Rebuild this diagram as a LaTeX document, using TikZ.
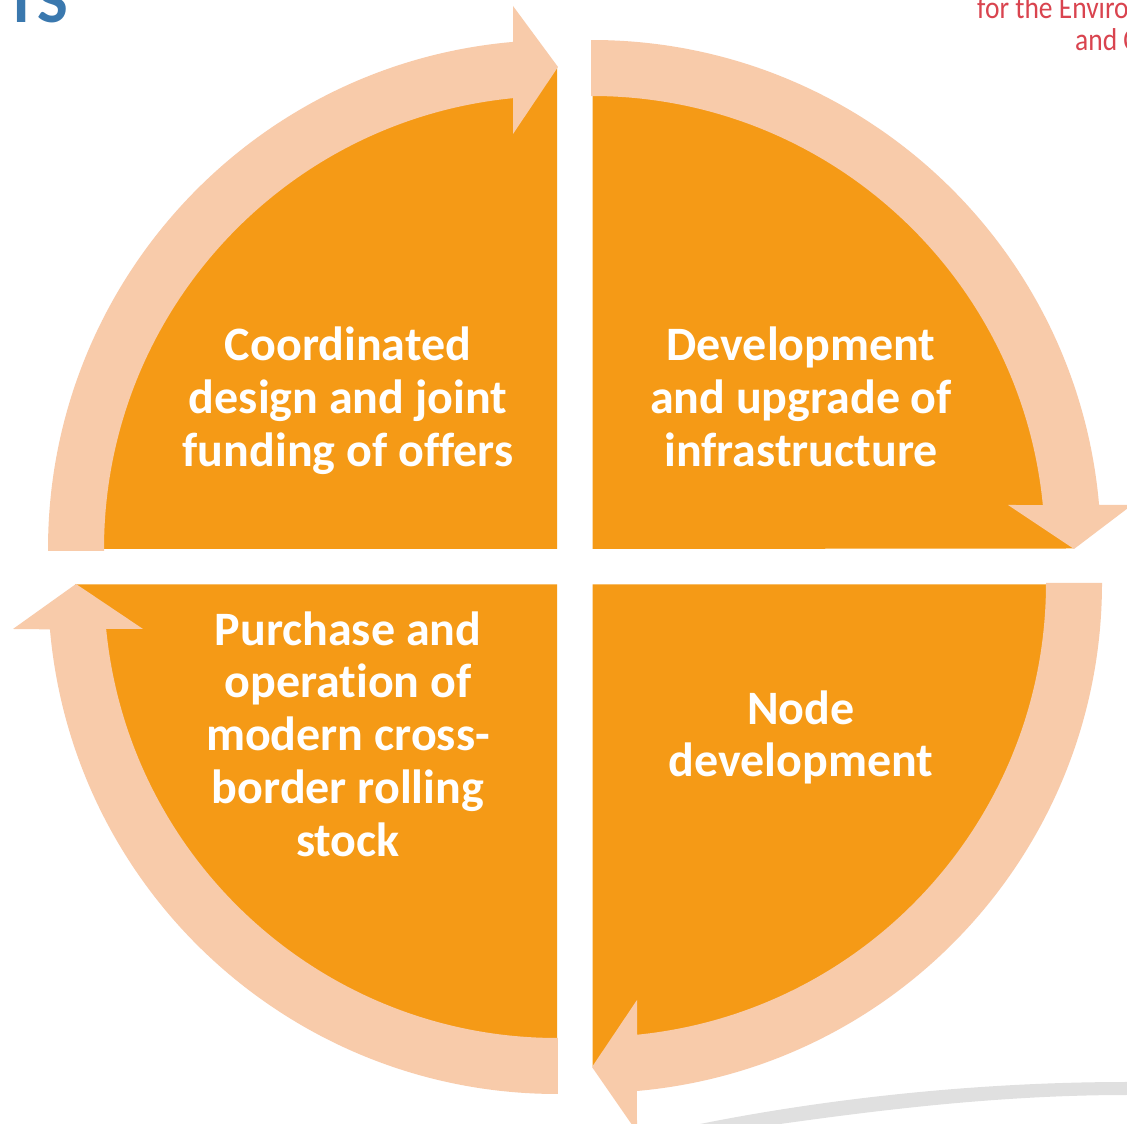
\documentclass[tikz,border=0pt]{standalone}
\usepackage{fontspec}
\setmainfont{Carlito}[Ligatures=NoCommon]
\definecolor{quadfill}{HTML}{F59A16}
\definecolor{bandfill}{HTML}{F8CBAA}
\definecolor{swoosh}{HTML}{E0E0E0}
\definecolor{headblue}{HTML}{3A78AE}
\definecolor{headred}{HTML}{D9444F}
\tikzset{
  quad/.style={fill=quadfill,draw=none},
  band/.style={fill=bandfill,draw=none},
  label/.style={text=white,align=center,inner sep=0pt,font=\bfseries\fontsize{48}{52.8}\selectfont},
  redtext/.style={anchor=base west,inner sep=0pt,text=headred,yscale=1.15,font=\fontsize{27.5}{27.5}\selectfont},
}
\begin{document}
\begin{tikzpicture}[x=1pt,y=1pt]
\clip (0,0) rectangle (1127,1124);
\fill[white] (0,0) rectangle (1127,1124);
% grey swoosh
\fill[swoosh] (700,0) .. controls (830,26) and (980,42) .. (1127,42) -- (1127,29) .. controls (1000,29) and (880,14) .. (780,0) -- cycle;
% quadrants
\path[quad] (592.5,575) -- (592.5,1057) arc[start angle=90,end angle=0,radius=481.5pt] -- cycle;
\path[quad] (592.5,539.5) -- (1074,539.5) arc[start angle=0,end angle=-90,radius=481.5pt] -- cycle;
\path[quad] (557,539.5) -- (557,57.5) arc[start angle=270,end angle=180,radius=482pt] -- cycle;
\path[quad] (557,575) -- (75,575) arc[start angle=180,end angle=90,radius=482pt] -- cycle;
% arrows
\path[band] ([shift={(592,575)}]90.1:509pt) arc[start angle=90.1,end angle=4.96,radius=509pt]
  -- (1132,619) -- (1074,575) -- (1008,619) -- ([shift={(592,575)}]5.57:453pt)
  arc[start angle=5.57,end angle=90.1,radius=453pt] -- cycle;
\path[band] ([shift={(592,541)}]0:510pt) arc[start angle=0,end angle=-84.94,radius=510pt]
  -- (637,-8) -- (592,57) -- (637,124) -- ([shift={(592,541)}]-84.31:454pt)
  arc[start angle=-84.31,end angle=0,radius=454pt] -- cycle;
\path[band] ([shift={(557,539)}]270.1:509pt) arc[start angle=270.1,end angle=185.0,radius=509pt]
  -- (13,495) -- (76,540) -- (143,495) -- ([shift={(557,539)}]185.57:453pt)
  arc[start angle=185.57,end angle=270.1,radius=453pt] -- cycle;
\path[band] ([shift={(557,575)}]180.225:509pt) arc[start angle=180.225,end angle=94.96,radius=509pt]
  -- (513,1118) -- (558,1057) -- (513,990) -- ([shift={(557,575)}]95.57:453pt)
  arc[start angle=95.57,end angle=180.25,radius=453pt] -- cycle;
% labels
\node[label] (tl) at (348,723.5) {Coordinated\\design and joint\\funding of offers};
\node[label] (tr) at (801,727) {Development\\and upgrade of\\infrastructure};
\node[label] (br) at (801,386.5) {Node\\development};
\node[label] (bl) at (348,390) {Purchase and\\operation of\\modern cross-\\border rolling\\stock};
% header fragments
\node[anchor=base west,inner sep=0pt,text=headblue,font=\bfseries\fontsize{65}{65}\selectfont] (ts) at (5,1101) {TS};
\node[redtext] (envl) at (977,1105.5) {for the Enviro};
\node[redtext] (andl) at (1075,1073) {and C};
\end{tikzpicture}
\end{document}
